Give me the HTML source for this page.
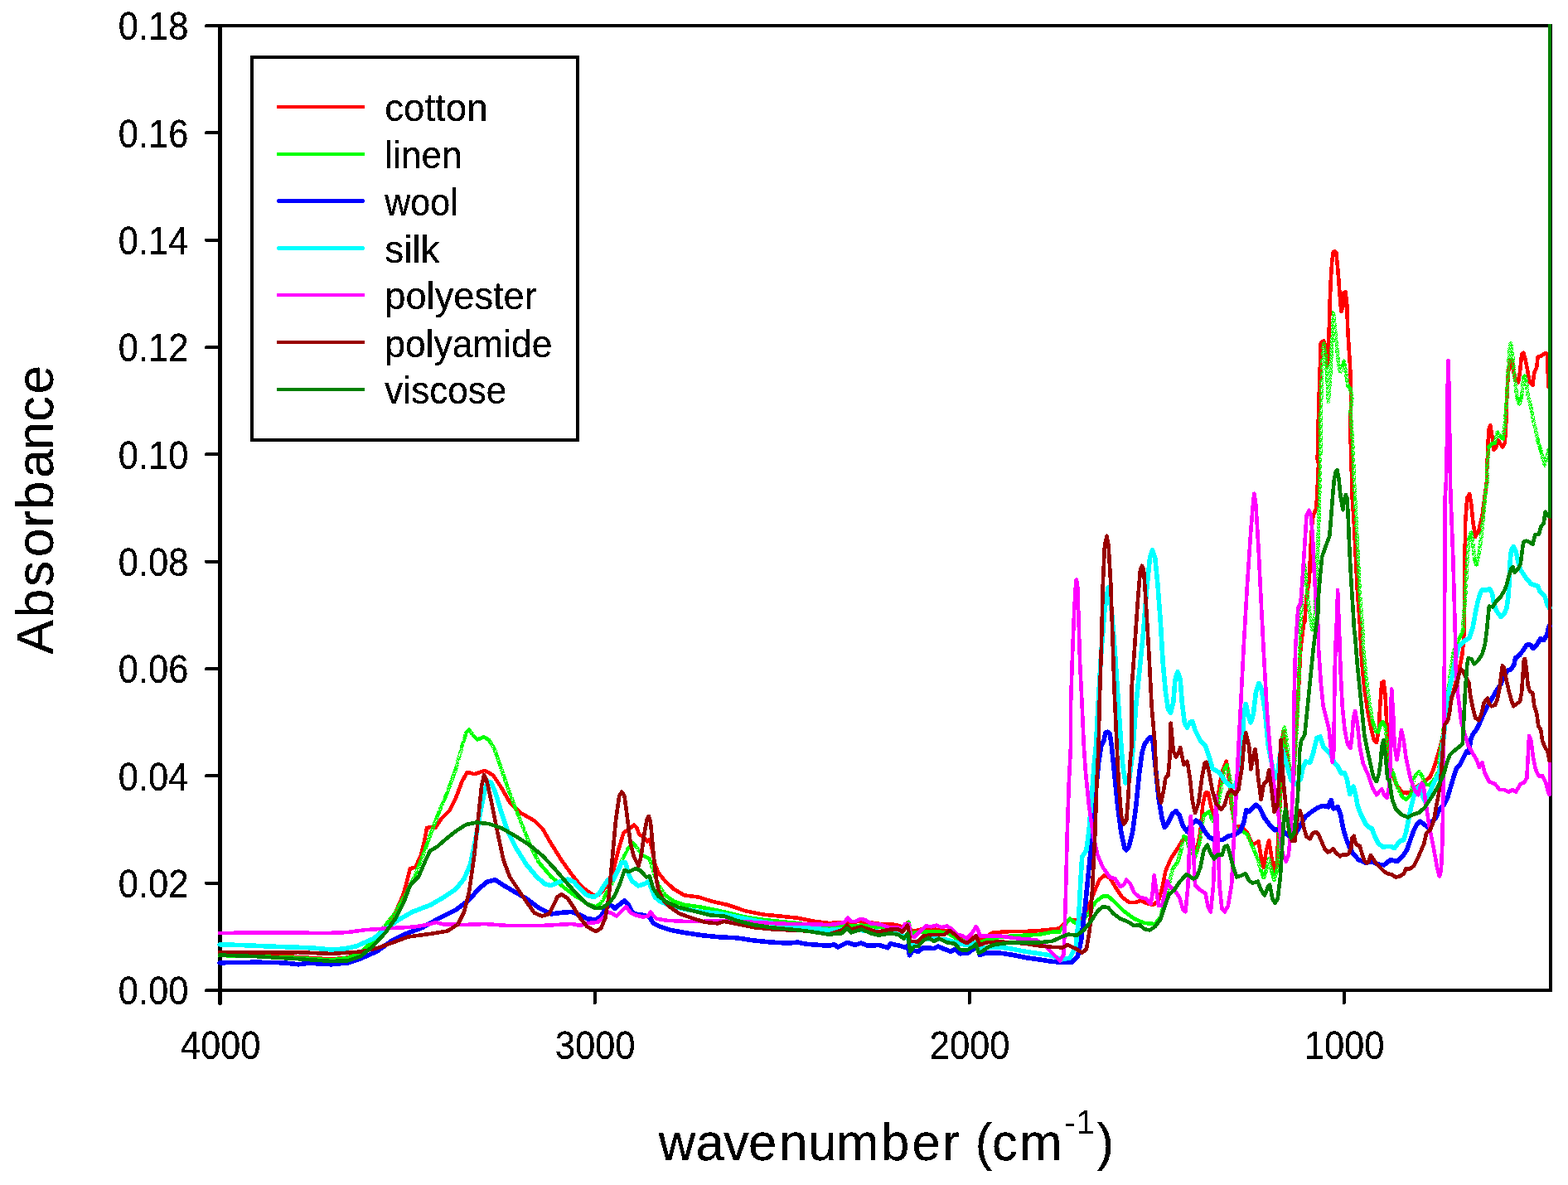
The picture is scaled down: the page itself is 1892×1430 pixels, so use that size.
<!DOCTYPE html>
<html lang="en"><head><meta charset="utf-8"><title>FTIR absorbance spectra of textile fibres</title>
<style>
html,body{margin:0;padding:0;background:#fff;}
body{width:1892px;height:1430px;overflow:hidden;font-family:"Liberation Sans", Arial, Helvetica, sans-serif;}
svg{display:block;}
text{font-family:"Liberation Sans", Arial, Helvetica, sans-serif;fill:#000;filter:url(#alias);}
.tick{font-size:48.5px;}
.leg{font-size:45.6px;}
.lab{font-size:63.8px;}
.ax{stroke:#000;stroke-width:4;fill:none;stroke-linecap:round;}
.cv{fill:none;stroke-linejoin:round;stroke-linecap:round;}
</style></head><body>
<svg width="1892" height="1430" viewBox="0 0 1892 1430">
<rect width="1892" height="1430" fill="#fff"/>
<defs><filter id="alias" x="-5%" y="-20%" width="110%" height="140%" color-interpolation-filters="sRGB"><feComponentTransfer><feFuncA type="discrete" tableValues="0 1 1"/></feComponentTransfer></filter></defs>
<defs><pattern id="stip" width="8" height="8" patternUnits="userSpaceOnUse"><path d="M0,0h1v1h-1zM1,0h1v1h-1zM3,0h1v1h-1zM4,0h1v1h-1zM5,0h1v1h-1zM6,0h1v1h-1zM7,0h1v1h-1zM0,1h1v1h-1zM1,1h1v1h-1zM2,1h1v1h-1zM3,1h1v1h-1zM4,1h1v1h-1zM6,1h1v1h-1zM7,1h1v1h-1zM2,2h1v1h-1zM3,2h1v1h-1zM5,2h1v1h-1zM7,2h1v1h-1zM0,3h1v1h-1zM1,3h1v1h-1zM2,3h1v1h-1zM4,3h1v1h-1zM5,3h1v1h-1zM7,3h1v1h-1zM0,4h1v1h-1zM1,4h1v1h-1zM2,4h1v1h-1zM3,4h1v1h-1zM5,4h1v1h-1zM6,4h1v1h-1zM7,4h1v1h-1zM0,5h1v1h-1zM1,5h1v1h-1zM4,5h1v1h-1zM5,5h1v1h-1zM6,5h1v1h-1zM1,6h1v1h-1zM3,6h1v1h-1zM4,6h1v1h-1zM6,6h1v1h-1zM7,6h1v1h-1zM0,7h1v1h-1zM3,7h1v1h-1zM5,7h1v1h-1zM7,7h1v1h-1z" fill="#00ff00" shape-rendering="crispEdges"/></pattern></defs>
<defs><pattern id="stipl" width="12" height="12" patternUnits="userSpaceOnUse"><path d="M0,0h12v12h-12zM6,0h1v1h-1zM2,1h1v1h-1zM6,1h1v1h-1zM0,2h1v1h-1zM6,3h1v1h-1zM3,4h1v1h-1zM0,5h1v1h-1zM1,5h1v1h-1zM5,5h1v1h-1zM6,5h1v1h-1zM10,5h1v1h-1zM10,6h1v1h-1zM4,7h1v1h-1zM9,7h1v1h-1zM7,9h1v1h-1zM8,9h1v1h-1zM4,11h1v1h-1z" fill="#00ff00" fill-rule="evenodd" shape-rendering="crispEdges"/></pattern></defs>
<g class="ax" shape-rendering="crispEdges">
<rect x="265.5" y="31.0" width="1605.5" height="1164.0"/>
<line x1="249" y1="31.0" x2="265.5" y2="31.0"/>
<line x1="249" y1="160.3" x2="265.5" y2="160.3"/>
<line x1="249" y1="289.7" x2="265.5" y2="289.7"/>
<line x1="249" y1="419.0" x2="265.5" y2="419.0"/>
<line x1="249" y1="548.3" x2="265.5" y2="548.3"/>
<line x1="249" y1="677.7" x2="265.5" y2="677.7"/>
<line x1="249" y1="807.0" x2="265.5" y2="807.0"/>
<line x1="249" y1="936.3" x2="265.5" y2="936.3"/>
<line x1="249" y1="1065.7" x2="265.5" y2="1065.7"/>
<line x1="249" y1="1195.0" x2="265.5" y2="1195.0"/>
<line x1="265.5" y1="1195.0" x2="265.5" y2="1210.5"/>
<line x1="717.5" y1="1195.0" x2="717.5" y2="1210.5"/>
<line x1="1169.5" y1="1195.0" x2="1169.5" y2="1210.5"/>
<line x1="1621.5" y1="1195.0" x2="1621.5" y2="1210.5"/>
<line x1="265.5" y1="31.0" x2="265.5" y2="1210.5" stroke-width="5"/>
</g>
<g class="cv" shape-rendering="crispEdges">
<path stroke="#ff0000" stroke-width="4" stroke-linecap="butt" d="M1870,467.1 L1870,29"/>
<path id="c-cotton" stroke="#ff0000" stroke-width="4.6" d="M266.6,1150.5 L265,1151 L310,1153 L360,1155 L400,1157.5 L420,1155.5 L435,1150 L450,1138 L465,1119.2 L477.5,1100.5 L486.2,1080.5 L491.2,1063 L495,1048 L501.2,1046.8 L507.5,1033 L512.5,1013 L515,999.2 L520,998 L525,999.2 L532.5,988 L542.5,978 L550,963 L557.5,943 L563.8,931.8 L572.5,934.2 L585,929.8 L595,935.5 L605,950.5 L615,968 L627.5,980.5 L645,990.5 L655,1000.5 L665,1018 L677.5,1038 L690,1055.5 L700,1068 L708.4,1075.2 L716.8,1080.4 L723.1,1079.4 L731.5,1069.9 L739.9,1051 L746.2,1025.9 L752.4,1004.9 L758.7,1000.7 L765,995.5 L768.2,998.6 L771.3,1007 L775.5,1009.1 L780.8,1015.4 L783.9,1013.3 L787.1,1025.9 L790.2,1042.7 L794.4,1053.1 L802.8,1063.6 L813.3,1073.1 L825.9,1080.4 L842.7,1082.5 L859.4,1087.8 L878.3,1092 L899.3,1099.3 L920.3,1103.5 L941.3,1105.6 L962.2,1107.7 L983.2,1111.9 L1000,1114 L1009.5,1113.6 L1019,1112.8 L1039.6,1112 L1063.4,1115.1 L1080.9,1115.9 L1088.8,1118.3 L1095.1,1113.6 L1097.5,1121.5 L1103.1,1123.9 L1111,1121.5 L1126.8,1121.5 L1142.7,1123.1 L1155.4,1131 L1166.5,1134.2 L1174.4,1131 L1182.3,1134.2 L1188.7,1131 L1198.2,1125.4 L1222,1123.9 L1237.8,1123.9 L1253.7,1123.1 L1269.6,1121.5 L1278.4,1120.3 L1284.7,1114 L1291,1109.8 L1301.5,1109.8 L1312,1099.3 L1320.3,1076.2 L1326.6,1061.5 L1332.9,1056.3 L1339.2,1059.4 L1345.5,1069.9 L1353.9,1082.5 L1362.3,1088.8 L1370.7,1088.8 L1377,1086.7 L1383.3,1089.9 L1391.7,1092 L1398,1086.7 L1402.2,1072 L1406.4,1051 L1412.7,1036.4 L1421,1023.8 L1427.3,1013.3 L1431.5,1011.2 L1437.8,1017.5 L1444.1,1026 L1448.3,1004.9 L1451.5,969.2 L1454.6,956.6 L1457.8,956.6 L1460.9,971.3 L1465.1,986.1 L1469.3,962.9 L1474.5,931.5 L1479.8,918.8 L1481.9,929.4 L1486.1,973.4 L1490.3,996.5 L1495.5,997.6 L1500.8,1000.7 L1505,1004.9 L1511.3,1019.6 L1518.6,1015.4 L1521.7,1034.3 L1524.9,1047 L1528,1025.9 L1531.2,1014.2 L1534.3,1034.3 L1537.5,1053.2 L1540.6,1042.7 L1542.7,1004.9 L1544.8,962.9 L1549,900 L1548.4,881.9 L1552.6,907.8 L1555.4,928.8 L1557.5,940 L1561,940 L1563.1,893.8 L1566.6,837.9 L1569.4,782 L1572.9,754 L1575,742 L1574.3,751 L1576.4,720.8 L1579.9,699.9 L1581.3,664.9 L1583.4,629.9 L1584.8,621.5 L1588.3,613.1 L1589.7,588 L1591,560 L1589.7,553.8 L1591,497.9 L1592.4,455.9 L1593.8,414 L1597.1,411.2 L1599.9,419.9 L1602,441.6 L1602.7,419.9 L1603.7,398.9 L1604.7,363.9 L1605.9,335.9 L1607.2,316.4 L1608.6,304.5 L1610.4,303.3 L1612.2,304.5 L1613.5,316.4 L1615.2,335.9 L1616.7,356.9 L1618.4,375.9 L1620.2,370.9 L1621.6,353.4 L1623.4,352 L1625.1,363.9 L1626.2,396.1 L1627.6,419.9 L1629,440.8 L1630.1,468.8 L1629.5,525.9 L1630.6,560.8 L1631.6,600 L1633.7,629.9 L1635.8,671.9 L1637.9,713.8 L1640,741.8 L1641.4,760 L1642.1,782 L1644.2,809.9 L1646.3,830.9 L1650.5,858.9 L1654.7,879.9 L1658.2,893.8 L1661,895.9 L1663.8,879.9 L1665.2,851.9 L1667.3,823.9 L1669.4,822.4 L1671.5,837.9 L1672.9,865.9 L1674.3,893.8 L1676.4,921.8 L1679.9,934 L1685.5,948 L1692.4,956.4 L1698,956.4 L1697.6,957.3 L1704.6,954.5 L1710.2,949 L1720,942 L1725.6,937.8 L1729.8,928 L1734,914 L1738.2,900 L1747.9,857.9 L1754.9,829.9 L1761.9,802 L1764.7,788 L1766.8,760 L1766.8,719.9 L1767.5,677.9 L1768.2,629 L1770.3,601 L1773.1,596 L1775.2,608 L1777.3,629 L1780.1,647.9 L1784.3,640.1 L1788.5,622 L1791.3,601 L1794.1,580 L1794.1,567.8 L1795.5,539.9 L1796.2,518.9 L1798.3,513.2 L1800.4,525.9 L1802.5,542.7 L1805.3,539.9 L1807.4,530.7 L1809.5,534.3 L1813,539.3 L1815.8,534.3 L1817.2,511.9 L1818.6,469.9 L1820,449 L1822.1,435 L1824.2,434.3 L1826.3,449 L1829.1,458.7 L1831.9,461.5 L1834,449 L1836.1,428 L1838.2,425.8 L1840.3,432.2 L1843,446.2 L1845.8,461.5 L1849.3,465 L1851.4,449 L1854.2,443.4 L1855.6,430.8 L1859.8,429.4 L1864.7,425.9 L1866.8,428 L1868.5,467.1 L1870,467.1"/>
<path stroke="#00ff00" stroke-width="4" stroke-linecap="butt" d="M1870,542.7 L1870,29"/>
<path stroke="#00ff00" stroke-width="4.6" d="M266.6,1152 L265,1153 L310,1154.2 L360,1156 L400,1158.5 L420,1156 L435,1149.2 L450,1135.5"/>
<path stroke="url(#stipl)" stroke-width="4.6" d="M450,1135.5 L465,1116.8 L477.5,1100.5 L490,1078 L500,1058 L510,1033 L520,1005.5 L530,979.2 L540,955.5 L550,928"/>
<path stroke="url(#stip)" stroke-width="4.6" d="M550,928 L557.5,900.5"/>
<path stroke="url(#stipl)" stroke-width="4.6" d="M557.5,900.5 L562.5,884.2"/>
<path stroke="#00ff00" stroke-width="4.6" d="M562.5,884.2 L566.2,880.5"/>
<path stroke="url(#stipl)" stroke-width="4.6" d="M566.2,880.5 L571.2,888"/>
<path stroke="#00ff00" stroke-width="4.6" d="M571.2,888 L576.2,892.5 L583.8,889.2 L590,893"/>
<path stroke="url(#stipl)" stroke-width="4.6" d="M590,893 L596.2,903 L602.5,920.5 L610,943 L620,970.5 L630,995.5 L640,1020.5 L650,1040.5"/>
<path stroke="#00ff00" stroke-width="4.6" d="M650,1040.5 L665,1058 L680,1070.5 L695,1081.8 L700,1084.2 L708.4,1090.9 L718.9,1094.1 L725.2,1089.9"/>
<path stroke="url(#stipl)" stroke-width="4.6" d="M725.2,1089.9 L731.5,1078.3 L742,1059.4 L750.3,1038.5 L757.7,1023.8"/>
<path stroke="#00ff00" stroke-width="4.6" d="M757.7,1023.8 L764,1017.5"/>
<path stroke="url(#stipl)" stroke-width="4.6" d="M764,1017.5 L769.2,1023.8 L775.5,1032.2"/>
<path stroke="#00ff00" stroke-width="4.6" d="M775.5,1032.2 L783.9,1036.4"/>
<path stroke="url(#stipl)" stroke-width="4.6" d="M783.9,1036.4 L788.1,1051 L794.4,1067.8 L802.8,1080.4"/>
<path stroke="#00ff00" stroke-width="4.6" d="M802.8,1080.4 L813.3,1087.8 L825.9,1092 L842.7,1094.1 L859.4,1097.2 L878.3,1101.4 L899.3,1106.6 L920.3,1109.8 L941.3,1111.9 L962.2,1114 L983.2,1117.1 L1000,1120.3 L1019,1117.5 L1039.6,1116.7 L1063.4,1119.1 L1088.8,1122.3"/>
<path stroke="url(#stipl)" stroke-width="4.6" d="M1088.8,1122.3 L1096.7,1112.8"/>
<path stroke="url(#stip)" stroke-width="4.6" d="M1096.7,1112.8 L1099.1,1126.2"/>
<path stroke="#00ff00" stroke-width="4.6" d="M1099.1,1126.2 L1111,1124.7 L1126.8,1123.9 L1142.7,1125.4 L1155.4,1133.4 L1166.5,1136.5 L1182.3,1137.3 L1193.4,1133.4 L1206.1,1131 L1222,1129.4 L1237.8,1128.6 L1253.7,1127.8 L1269.6,1124.7 L1278.4,1124.5"/>
<path stroke="url(#stipl)" stroke-width="4.6" d="M1278.4,1124.5 L1286.8,1114 L1291,1108.7"/>
<path stroke="#00ff00" stroke-width="4.6" d="M1291,1108.7 L1297.3,1114 L1305.7,1111.9"/>
<path stroke="url(#stipl)" stroke-width="4.6" d="M1305.7,1111.9 L1314.1,1101.4 L1322.4,1087.8"/>
<path stroke="#00ff00" stroke-width="4.6" d="M1322.4,1087.8 L1330.8,1081.5 L1337.1,1081.5 L1345.5,1088.8 L1356,1099.3 L1368.6,1108.7 L1381.2,1114 L1393.8,1115"/>
<path stroke="url(#stipl)" stroke-width="4.6" d="M1393.8,1115 L1400.1,1106.6 L1406.4,1084.6"/>
<path stroke="url(#stip)" stroke-width="4.6" d="M1406.4,1084.6 L1410.6,1067.8 L1414.8,1049"/>
<path stroke="url(#stipl)" stroke-width="4.6" d="M1414.8,1049 L1421,1040.6 L1425.2,1025.9"/>
<path stroke="url(#stip)" stroke-width="4.6" d="M1425.2,1025.9 L1428.4,1009.1"/>
<path stroke="#00ff00" stroke-width="4.6" d="M1428.4,1009.1 L1431.5,1011.2"/>
<path stroke="url(#stipl)" stroke-width="4.6" d="M1431.5,1011.2 L1435.7,1025.9 L1442,1034.3 L1447.3,1017.5"/>
<path stroke="url(#stip)" stroke-width="4.6" d="M1447.3,1017.5 L1452.5,983.9"/>
<path stroke="#00ff00" stroke-width="4.6" d="M1452.5,983.9 L1458.8,979.7"/>
<path stroke="url(#stipl)" stroke-width="4.6" d="M1458.8,979.7 L1463,990.3 L1467.2,983.9"/>
<path stroke="url(#stip)" stroke-width="4.6" d="M1467.2,983.9 L1471.4,962.9 L1477.7,927.3"/>
<path stroke="url(#stipl)" stroke-width="4.6" d="M1477.7,927.3 L1480.8,923.1"/>
<path stroke="url(#stip)" stroke-width="4.6" d="M1480.8,923.1 L1484,937.8 L1487.1,979.7 L1492.4,1004.9"/>
<path stroke="#00ff00" stroke-width="4.6" d="M1492.4,1004.9 L1498.7,1002.8 L1505,1007"/>
<path stroke="url(#stipl)" stroke-width="4.6" d="M1505,1007 L1511.3,1021.7 L1517.6,1036.4"/>
<path stroke="url(#stip)" stroke-width="4.6" d="M1517.6,1036.4 L1521.7,1051"/>
<path stroke="url(#stipl)" stroke-width="4.6" d="M1521.7,1051 L1524.9,1059.5 L1529.1,1046.9"/>
<path stroke="url(#stip)" stroke-width="4.6" d="M1529.1,1046.9 L1531.2,1036.3 L1534.3,1051"/>
<path stroke="url(#stipl)" stroke-width="4.6" d="M1534.3,1051 L1537.5,1061.6 L1540.6,1051"/>
<path stroke="url(#stip)" stroke-width="4.6" d="M1540.6,1051 L1542.7,1025.9 L1544.8,962.9 L1546.9,937.8 L1549,900"/>
<path stroke="url(#stipl)" stroke-width="4.6" d="M1549,900 L1546.3,893.8"/>
<path stroke="url(#stip)" stroke-width="4.6" d="M1546.3,893.8 L1549.8,877.7 L1552.6,893.8 L1555.4,921.8 L1557.5,940"/>
<path stroke="#00ff00" stroke-width="4.6" d="M1557.5,940 L1561,940"/>
<path stroke="url(#stip)" stroke-width="4.6" d="M1561,940 L1563.8,893.8 L1566.6,837.9 L1568.7,782 L1570.1,740 L1571.5,699.9 L1573.6,680.9 L1575.7,692.9 L1577.8,720.8 L1580.6,741.8 L1583.4,759.7 L1585.5,751.2 L1586.9,740 L1588.3,699.9 L1590.3,657.9 L1591.7,615.9 L1592.4,588 L1593.1,560 L1593.8,497.9 L1595.2,442 L1597.1,414.6 L1599.4,428 L1601.5,455.9 L1602.9,484.7 L1605,455.9 L1607.1,414 L1608.5,400 L1609,377.1 L1611.1,398.9 L1613.2,419.9 L1615.3,440.8 L1617.4,448.6 L1619.5,440.8"/>
<path stroke="url(#stipl)" stroke-width="4.6" d="M1619.5,440.8 L1621.6,435.8"/>
<path stroke="url(#stip)" stroke-width="4.6" d="M1621.6,435.8 L1623.7,447.8 L1626.5,466"/>
<path stroke="#00ff00" stroke-width="4.6" d="M1626.5,466 L1629.3,468.8"/>
<path stroke="url(#stip)" stroke-width="4.6" d="M1629.3,468.8 L1631.4,480 L1629.5,497.9 L1631.6,525.9 L1633,553.8 L1634,581.8 L1635.1,600"/>
<path stroke="url(#stipl)" stroke-width="4.6" d="M1635.1,600 L1635.1,602"/>
<path stroke="url(#stip)" stroke-width="4.6" d="M1635.1,602 L1637.2,643.9 L1638.6,671.9 L1640.7,713.8 L1642.8,741.8 L1644.2,760 L1644.9,782 L1648.4,816.9 L1651.9,844.9 L1656.1,870.1"/>
<path stroke="url(#stipl)" stroke-width="4.6" d="M1656.1,870.1 L1660.3,882.7"/>
<path stroke="#00ff00" stroke-width="4.6" d="M1660.3,882.7 L1663.1,883.4"/>
<path stroke="url(#stipl)" stroke-width="4.6" d="M1663.1,883.4 L1665.9,874.3"/>
<path stroke="#00ff00" stroke-width="4.6" d="M1665.9,874.3 L1668.7,871.4"/>
<path stroke="url(#stipl)" stroke-width="4.6" d="M1668.7,871.4 L1671.5,877.1"/>
<path stroke="url(#stip)" stroke-width="4.6" d="M1671.5,877.1 L1673.6,893.8 L1676.4,921.8"/>
<path stroke="url(#stipl)" stroke-width="4.6" d="M1676.4,921.8 L1681.3,934 L1686.9,952.2 L1692.4,962"/>
<path stroke="#00ff00" stroke-width="4.6" d="M1692.4,962 L1696.6,964.8 L1702.2,959.2"/>
<path stroke="url(#stip)" stroke-width="4.6" d="M1702.2,959.2 L1706.4,938.2"/>
<path stroke="url(#stipl)" stroke-width="4.6" d="M1706.4,938.2 L1712,931.1 L1716.2,936.8 L1720.4,946.6"/>
<path stroke="#00ff00" stroke-width="4.6" d="M1720.4,946.6 L1724.6,947.3 L1730.2,941"/>
<path stroke="url(#stipl)" stroke-width="4.6" d="M1730.2,941 L1735.8,931.2"/>
<path stroke="url(#stip)" stroke-width="4.6" d="M1735.8,931.2 L1736.8,914 L1738.9,900 L1741,885.9 L1747.9,829.9 L1753.5,788"/>
<path stroke="url(#stipl)" stroke-width="4.6" d="M1753.5,788 L1759.1,774 L1766.1,760 L1764.7,761.8"/>
<path stroke="url(#stip)" stroke-width="4.6" d="M1764.7,761.8 L1768.2,719.9 L1770.3,677.9 L1772.4,649.9"/>
<path stroke="url(#stipl)" stroke-width="4.6" d="M1772.4,649.9 L1775.2,642.8"/>
<path stroke="url(#stip)" stroke-width="4.6" d="M1775.2,642.8 L1777.3,656.9 L1779.4,675.1"/>
<path stroke="url(#stipl)" stroke-width="4.6" d="M1779.4,675.1 L1781.5,681.5"/>
<path stroke="url(#stip)" stroke-width="4.6" d="M1781.5,681.5 L1784.3,670.9 L1787.1,649.9 L1789.2,629 L1791.3,608 L1793.4,587 L1794.8,580 L1794.1,567.8 L1796.2,539.9"/>
<path stroke="#00ff00" stroke-width="4.6" d="M1796.2,539.9 L1799.7,535.7 L1803.9,534.3"/>
<path stroke="url(#stip)" stroke-width="4.6" d="M1803.9,534.3 L1806.7,521.7"/>
<path stroke="url(#stipl)" stroke-width="4.6" d="M1806.7,521.7 L1810.9,527.3"/>
<path stroke="#00ff00" stroke-width="4.6" d="M1810.9,527.3 L1813.7,529.5"/>
<path stroke="url(#stip)" stroke-width="4.6" d="M1813.7,529.5 L1815.8,511.9 L1817.9,483.9 L1820,442 L1821.4,421 L1822.8,414.6 L1824.9,425.2 L1826.3,442 L1828.4,462.9 L1830.5,479.7"/>
<path stroke="url(#stipl)" stroke-width="4.6" d="M1830.5,479.7 L1833.3,487.5 L1836.1,478.3"/>
<path stroke="url(#stip)" stroke-width="4.6" d="M1836.1,478.3 L1838.2,455.9"/>
<path stroke="url(#stipl)" stroke-width="4.6" d="M1838.2,455.9 L1839.6,453.7 L1841.7,460.1"/>
<path stroke="url(#stip)" stroke-width="4.6" d="M1841.7,460.1 L1843.7,476.9 L1847.2,490.9 L1850,506.3 L1852.8,518.9 L1855.6,531.5"/>
<path stroke="url(#stipl)" stroke-width="4.6" d="M1855.6,531.5 L1859.8,545.5"/>
<path stroke="url(#stip)" stroke-width="4.6" d="M1859.8,545.5 L1864,561.6 L1866.1,553.8 L1868.5,542.7"/>
<path stroke="#00ff00" stroke-width="4.6" d="M1868.5,542.7 L1870,542.7"/>
<path stroke="#0000ff" stroke-width="4" stroke-linecap="butt" d="M1870,755.8 L1870,29"/>
<path id="c-wool" stroke="#0000ff" stroke-width="5.6" d="M266.6,1161.5 L265,1161.8 L310,1161.2 L342.5,1161.8 L360,1163.8 L372.5,1162.2 L400,1163.8 L420,1161.8 L435,1156.8 L455,1148 L472.5,1135.5 L490,1126.8 L510,1119.2 L530,1108 L550,1098 L565,1086.8 L577.5,1073 L587.5,1064.2 L597.5,1061.8 L605,1066.8 L617.5,1074.2 L635,1084.2 L650,1095.5 L665,1103 L680,1101 L690,1100.5 L700,1104.2 L708.4,1108.7 L718.9,1109.8 L725.2,1105.6 L731.5,1095.1 L736.7,1092 L742,1096.2 L748.3,1090.9 L753.5,1086.7 L757.7,1090.9 L762.9,1101.4 L769.2,1103.5 L777.6,1104.5 L783.9,1106.6 L788.1,1114 L796.5,1118.2 L809.1,1122.4 L825.9,1125.5 L846.9,1128.7 L867.8,1130.8 L888.8,1131.8 L909.8,1135 L930.8,1137.1 L951.7,1138.1 L962.2,1137.1 L972.7,1139.2 L1000,1141.3 L1006.3,1139.7 L1011.1,1142.9 L1022.2,1137.3 L1031.7,1140.5 L1038.8,1138.1 L1047.6,1141.3 L1060.3,1140.5 L1071.4,1143.7 L1074.5,1138.9 L1085.6,1141.3 L1093.6,1143.7 L1095.9,1140.5 L1097.5,1152.8 L1101.5,1146.8 L1107.8,1148.4 L1114.2,1143.7 L1126.8,1144.5 L1131.6,1142.1 L1139.5,1145.3 L1147.5,1148.4 L1152.2,1145.3 L1158.6,1150.8 L1168.1,1150 L1174.4,1145.3 L1179.2,1143.7 L1182.3,1152.4 L1190.3,1150 L1206.1,1150 L1222,1152.4 L1237.8,1155.6 L1253.7,1157.9 L1269.6,1160.3 L1280.5,1161.2 L1293.1,1161.2 L1300.4,1153.8 L1304.6,1135 L1309.9,1088.8 L1315.1,1036.4 L1320.3,973.4 L1325.6,921 L1328.7,900 L1331.9,893.7 L1334,884.3 L1336.7,883.2 L1339.2,885.3 L1341.3,900 L1344.5,931.5 L1348.7,973.4 L1352.9,1004.9 L1357.1,1023.8 L1359.2,1025.9 L1362.3,1021.7 L1366.5,1004.9 L1370.7,973.4 L1374.9,931.5 L1378,908.4 L1381.2,897.9 L1387.5,889.5 L1390.6,890.6 L1393.8,921 L1398,962.9 L1402.2,988.1 L1405.3,998.6 L1408.5,994.4 L1414.8,981.8 L1419,978.7 L1423.1,983.9 L1427.3,996.5 L1432.6,1003.8 L1437.8,994.4 L1443.1,990.2 L1448.3,993.4 L1452.5,1001.7 L1458.8,1010.1 L1467.2,1014.3 L1475.6,1013.3 L1481.9,1009.1 L1490.3,1007 L1496.6,1002.8 L1500.8,992.3 L1503.9,977.6 L1507.1,979.7 L1511.3,975.5 L1515.5,971.3 L1519.7,974.5 L1525.9,987.1 L1532.2,995.5 L1538.5,1001.7 L1540,1001.1 L1547,1002.5 L1552.6,1006.7 L1558.2,1010.9 L1563.8,1005.3 L1569.4,995.5 L1575,985.7 L1582,980.1 L1589,975.2 L1595.9,972.4 L1602.9,973.8 L1605,967.6 L1606.4,965.5 L1607.8,973.1 L1609.2,975.9 L1614.1,973.8 L1617.6,982.9 L1620.4,998.3 L1623.9,1010.9 L1628.1,1022.1 L1633,1030.5 L1639.3,1037.5 L1647.7,1041 L1656.1,1040.3 L1663.1,1043.1 L1670.1,1043.8 L1674.3,1040.3 L1678.5,1037.5 L1682.7,1038.9 L1686.9,1038.9 L1692.4,1033.3 L1698,1024.9 L1702.2,1012.3 L1706.4,1001.1 L1709.9,994.1 L1713.4,991.3 L1717.6,994.1 L1723.2,998.3 L1728.4,990.9 L1732.6,986.7 L1736.8,976.9 L1742.3,971.3 L1746.5,962.9 L1750.7,948.8 L1754.9,934.8 L1757.7,926.4 L1761.9,922.2 L1766.1,913.8 L1769.6,906.9 L1772.4,908.3 L1774.5,892.9 L1777.3,885.9 L1781.5,880.3 L1785.7,871.9 L1789.9,862.1 L1794.1,853.7 L1799.7,843.9 L1805.3,834.1 L1810.9,825.7 L1815.1,815.9 L1819.3,809 L1823.5,807.6 L1827,802 L1828.4,794.3 L1833.3,790.8 L1837.5,785.2 L1842.3,778.2 L1846.5,778.2 L1850,782.4 L1854.2,778.2 L1859.1,770.5 L1862.6,772.6 L1866.8,765.6 L1868.9,755.8 L1870,755.8"/>
<path stroke="#00ffff" stroke-width="4" stroke-linecap="butt" d="M1870,733.8 L1870,29"/>
<path id="c-silk" stroke="#00ffff" stroke-width="5.6" d="M266.6,1139.5 L265,1139.8 L290,1140.5 L330,1142.2 L375,1143.8 L400,1146 L415,1145 L430,1141.8 L450,1133 L465,1121.8 L480,1110.5 L497.5,1100.5 L520,1091.8 L535,1083 L550,1073 L560,1060.5 L567.5,1043 L573.8,1013 L580,978 L585,953 L588.8,943 L592.5,944.2 L597.5,955.5 L605,980.5 L612.5,1003 L622.5,1023 L635,1043 L647.5,1058 L657.5,1066.8 L665,1068.5 L675,1064.2 L685,1061 L692.5,1064.2 L700,1073 L708.4,1080.4 L716.8,1082.5 L723.1,1078.3 L729.4,1067.8 L733.6,1061.5 L739.9,1061.5 L746.2,1049 L750.3,1040.6 L754.5,1040.6 L758.7,1055.2 L762.9,1063.6 L770.3,1068.9 L777.6,1066.8 L782.9,1063.6 L786,1072 L790.2,1082.5 L796.5,1087.8 L809.1,1093 L825.9,1097.2 L846.9,1100.3 L867.8,1102.4 L888.8,1106.6 L909.8,1110.8 L930.8,1114 L951.7,1117.1 L972.7,1119.2 L1000,1122.4 L1019,1121.5 L1047.6,1123.1 L1079.3,1126.2 L1095.1,1131 L1098.3,1140.5 L1111,1134.2 L1126.8,1132.6 L1142.7,1134.2 L1158.6,1138.9 L1166.5,1140.5 L1174.4,1137.3 L1182.3,1143.7 L1190.3,1143.7 L1206.1,1142.9 L1222,1145.3 L1237.8,1148.4 L1253.7,1150.8 L1269.6,1153.2 L1280.5,1158 L1291,1155.9 L1298.3,1141.3 L1301.5,1109.8 L1303.6,1067.8 L1305.7,1034.3 L1310.9,1025.9 L1314.1,1000.7 L1317.2,962.9 L1320.3,921 L1322.4,900 L1325,851.7 L1328.7,788.8 L1332.9,736.4 L1337.1,709 L1341.3,736.4 L1345.5,788.8 L1349.7,851.7 L1352.9,900 L1355,925.2 L1358.1,945.1 L1362.3,942 L1366.5,910.5 L1370.7,851.7 L1374.9,809.8 L1379.1,767.8 L1383.3,715.4 L1387.5,673.4 L1390.6,663.9 L1393.8,673.4 L1396.9,704.9 L1400.1,746.9 L1403.2,799.3 L1406.4,835 L1409.5,855.9 L1412.7,860.2 L1415.8,847.6 L1417.9,820.3 L1421,810.7 L1424.2,820.3 L1426.3,847.6 L1429.4,872.7 L1432.6,878.1 L1435.7,871.7 L1438.9,870.6 L1442,881.1 L1448.3,893.7 L1454.6,900 L1458.8,912.6 L1463,927.3 L1471.4,932.5 L1477.7,942 L1484,948.3 L1490.3,949.3 L1495.5,931.5 L1499.7,900 L1500.8,862.2 L1503.3,849.6 L1506,862.2 L1509.2,871.8 L1512.3,862.2 L1515.5,835 L1519,824.4 L1522,830.8 L1526.4,858 L1530.3,900 L1534.5,921 L1538,940 L1541.5,935 L1545,908 L1547.5,905 L1550,913 L1554,928 L1558,942 L1563,946 L1569.4,940 L1572.2,926 L1575.7,919 L1580.6,920.4 L1584.8,907.8 L1589,890.3 L1593.1,889 L1596.6,900.8 L1601.5,906.4 L1604.3,907.8 L1609.9,920.4 L1614.1,924.6 L1618.3,933 L1622.5,933 L1625.3,940 L1626.7,948 L1628.8,958.6 L1630.9,950.8 L1633,949.3 L1635.8,959.2 L1637.9,971.7 L1642.1,982.9 L1647.7,994.1 L1651.9,998.3 L1655.4,999.7 L1658.9,1009.5 L1663.1,1017.9 L1668.7,1022.1 L1674.3,1021.4 L1678.5,1021.4 L1682.7,1023.5 L1686.9,1017.9 L1689.7,1014.4 L1693.8,1013.7 L1696.6,1003.9 L1699.4,989.9 L1702.2,975.9 L1705.7,962 L1709.2,952.2 L1713.4,948 L1716.2,959.2 L1719,966.2 L1723.2,960.6 L1728.8,948 L1734.4,936 L1735.4,939.8 L1739.6,913.8 L1743.7,871.9 L1747.9,836.9 L1752.1,815.9 L1756.3,795 L1759.8,781 L1766.1,774 L1773.1,769.8 L1777.3,756.2 L1780.1,740.8 L1782.9,726.9 L1785.7,717.1 L1787.8,712.2 L1792.7,712.2 L1797.6,710.8 L1800.4,715.7 L1802.5,728.3 L1805.3,736.6 L1810.9,744.3 L1815.1,740.8 L1817.9,733.8 L1820,719.9 L1821.4,698.9 L1822.1,677.9 L1823.5,663.9 L1826.3,659.6 L1829.1,665.3 L1831.9,677.9 L1834.7,687.7 L1840.3,696.1 L1847.2,704.5 L1855.6,707.3 L1858.4,714.3 L1864,719.9 L1867.5,731 L1869.6,733.8 L1870,733.8"/>
<path stroke="#ff00ff" stroke-width="4" stroke-linecap="butt" d="M1870,958.6 L1870,29"/>
<path id="c-polyester" stroke="#ff00ff" stroke-width="4.6" d="M266.6,1126 L265,1126 L310,1125.5 L360,1125.5 L390,1126.2 L420,1125 L440,1122.2 L465,1120.5 L500,1118.5 L517.5,1115.5 L526.2,1113 L535,1115.5 L560,1116 L585,1115 L610,1116.8 L650,1117.2 L690,1115 L700,1116.8 L710.5,1114 L721,1112.9 L727.3,1107.7 L733.6,1100.3 L738.8,1102.4 L744.1,1105.6 L750.3,1099.3 L755.6,1094.1 L760.8,1101.4 L767.1,1104.5 L775.5,1106.6 L781.8,1105.6 L785,1100.3 L788.1,1104.5 L792.3,1108.7 L804.9,1110.8 L825.9,1111.9 L846.9,1111.9 L867.8,1110.8 L888.8,1111.9 L909.8,1112.9 L930.8,1114 L951.7,1115 L972.7,1115 L1000,1116.1 L1009.5,1115.1 L1019,1112.8 L1023,1107.6 L1027,1112 L1031.7,1112 L1038.8,1108.8 L1044.4,1110.4 L1050.7,1114.3 L1063.4,1115.9 L1072.9,1119.1 L1082.5,1119.1 L1088.8,1121.5 L1092,1115.1 L1096.7,1115.1 L1099.1,1129.4 L1103.1,1131 L1111,1123.1 L1117.3,1117.5 L1123.7,1118.3 L1130,1116.7 L1136.4,1119.1 L1142.7,1117.5 L1149,1121.5 L1155.4,1127.8 L1161.7,1129.4 L1166.5,1132.6 L1172.8,1126.2 L1177.6,1118.3 L1180,1121.5 L1182.3,1129.4 L1190.3,1129.4 L1206.1,1129.4 L1222,1131.8 L1237.8,1133.4 L1250.5,1134.2 L1261.6,1142.1 L1269.6,1150 L1279.1,1159.5 L1283.6,1151.7 L1285.7,1088.8 L1287.8,1004.9 L1289.9,942 L1292,900 L1292,851.7 L1294.1,788.8 L1296.2,736.4 L1298.3,700.7 L1299,699.6 L1300.4,709.1 L1301.5,746.9 L1303.1,799.3 L1305.7,851.7 L1307.8,900 L1309.9,931.5 L1314.1,973.4 L1319.3,1009.1 L1324.5,1032.2 L1330.8,1046.9 L1339.2,1058.4 L1345.5,1060.5 L1351.8,1069.9 L1356,1067.8 L1359.2,1061.5 L1363.4,1065.7 L1368.6,1077.3 L1374.9,1082.5 L1383.3,1084.6 L1388.5,1091 L1390.6,1078.3 L1392.7,1056.2 L1395.9,1078.3 L1398,1093 L1402.2,1093 L1405.3,1078.3 L1408.5,1063.5 L1411.6,1069.9 L1416.9,1074.1 L1423.1,1082.5 L1427.3,1097.2 L1430.5,1100.4 L1433.6,1067.8 L1435.7,1004.9 L1436.8,984.9 L1438.9,1004.9 L1442,1067.8 L1448.3,1074.1 L1454.6,1078.3 L1457.8,1095.1 L1460.9,1100.4 L1464.1,1067.8 L1466.2,1004.9 L1467.2,960.7 L1469.3,1004.9 L1471.4,1067.8 L1474.5,1097.2 L1477.7,1100.4 L1481.9,1093 L1486.1,1067.8 L1489.2,1004.9 L1492.4,942 L1494.5,900 L1497.6,841.3 L1500.8,778.3 L1505,704.9 L1509.2,642 L1512.3,604.2 L1513.4,595.7 L1515.5,610.5 L1518.6,662.9 L1521.7,725.9 L1524.9,788.8 L1529.1,862.2 L1532.2,900 L1536.4,942 L1542.7,983.9 L1546.9,1025.9 L1548.4,1031.9 L1551.9,1039.7 L1554.7,1031.9 L1557.5,1003.9 L1559.6,962 L1561,920 L1561,865.9 L1563.1,782 L1565.9,740 L1565.9,734.8 L1569.4,727.8 L1571.5,699.9 L1574.3,657.9 L1576.4,622.9 L1579.6,615.8 L1582,622.9 L1584.1,650.9 L1585.5,685.9 L1587.6,720.8 L1589.7,748.8 L1591,760 L1591,782 L1593.8,823.9 L1596.6,851.9 L1600.1,865.9 L1603.6,879.9 L1605.7,900.8 L1607.8,919.8 L1609.2,907.8 L1609.9,865.9 L1610.6,809.9 L1612,768 L1613.4,740 L1614.1,711.7 L1616.2,768 L1617.6,809.9 L1619.7,851.9 L1622.5,879.9 L1626,898 L1629.5,903 L1631.6,886.9 L1633,865.9 L1635.1,858.1 L1637.9,872.9 L1640.7,900.8 L1644.9,921.8 L1650.5,934 L1656.1,950.8 L1661,959.2 L1664.5,955 L1667.3,952.2 L1670.1,959.2 L1673.6,962.7 L1676.4,948 L1677.8,920 L1677.8,865.9 L1679.2,831.5 L1681.3,865.9 L1682.7,900.8 L1685.5,917 L1688.3,900.8 L1691,881.2 L1693.8,893.8 L1696.6,914.8 L1702.2,941 L1707.8,955 L1711.3,959.2 L1714.1,948 L1715.5,945.1 L1717.6,948 L1720.4,969 L1724.6,996.9 L1730.2,1024.9 L1734,1046.9 L1736.8,1057.4 L1738.9,1051 L1740.3,1018.9 L1741,983.9 L1741.5,942 L1742.1,900 L1743,780 L1743.3,691.9 L1743.6,622 L1743.7,600 L1745,579 L1745.8,539.9 L1746.4,497.9 L1746.8,462.9 L1747.4,434.9 L1747.9,442 L1748.4,469.9 L1748.8,497.9 L1749.5,539.9 L1749.9,579 L1750.5,600 L1753.5,677.9 L1756.3,780 L1756.3,802 L1759.1,836.9 L1763.3,871.9 L1767.5,885.9 L1771.7,899.9 L1775.9,906.9 L1781.5,916.6 L1785,925.8 L1788.5,920 L1791.3,932 L1796.9,943.2 L1803.9,946 L1809.5,953 L1815.1,953 L1820.7,955.8 L1824.9,953 L1829.1,955.8 L1834.7,946 L1838.9,944.6 L1842.3,939 L1843.7,913.8 L1845.1,887.9 L1847.2,892.9 L1850,913.8 L1852.8,927.8 L1856.3,936.2 L1861.2,936.2 L1865.4,944.6 L1868.2,955.8 L1869.6,958.6 L1870,958.6"/>
<path stroke="#980000" stroke-width="4" stroke-linecap="butt" d="M1870,918 L1870,29"/>
<path id="c-polyamide" stroke="#980000" stroke-width="4.6" d="M266.6,1149 L265,1149.2 L310,1149.8 L360,1149.2 L400,1151 L435,1148.5 L455,1144.2 L472.5,1138 L492.5,1130.5 L520,1126.8 L540,1123.5 L552.5,1115.5 L560,1100.5 L566.2,1075.5 L572.5,1030.5 L577.5,983 L581.2,948 L584.2,935 L587.5,943 L592.5,965.5 L600,1003 L607.5,1038 L615,1058 L625,1073 L635,1088 L645,1101.8 L653.8,1105.5 L662.5,1103 L667.5,1093 L672.5,1082.5 L677.5,1079.2 L685,1084.2 L692.5,1095.5 L700,1108 L708.4,1118.2 L718.9,1124.1 L725.2,1120.3 L730.4,1107.7 L734.6,1082.5 L738.8,1036.4 L743,990.2 L747.2,960.8 L750.3,955.5 L753.5,960.8 L756.6,983.9 L760.8,1017.5 L765,1034.3 L770.3,1044.9 L773.4,1034.3 L777.6,1004.9 L780.8,988.1 L782.9,985 L785,992.3 L788.1,1025.9 L791.3,1057.3 L794.4,1074.1 L800.7,1086.7 L809.1,1095.1 L819.6,1102.4 L834.3,1107.7 L851,1112.9 L865.7,1114.4 L874.1,1111.9 L888.8,1115 L909.8,1119.2 L930.8,1121.3 L951.7,1122.4 L972.7,1123.4 L1000,1127.6 L1015.9,1122.3 L1022.2,1116.7 L1027,1121.5 L1039.6,1118.3 L1050.7,1122.3 L1058.7,1124.7 L1074.5,1121.5 L1084,1121.5 L1088.8,1124.7 L1095.1,1116.7 L1098.3,1135.8 L1107.8,1136.5 L1114.2,1129.4 L1126.8,1127.8 L1139.5,1127.8 L1145.9,1123.1 L1152.2,1127.8 L1158.6,1134.2 L1166.5,1138.1 L1172.8,1134.2 L1177.6,1129.4 L1182.3,1140.5 L1190.3,1137.3 L1206.1,1136.5 L1222,1137.3 L1237.8,1138.9 L1253.7,1141.3 L1269.6,1142.9 L1282.6,1143.4 L1287.8,1140.2 L1297.3,1144.4 L1305.7,1149.7 L1310.9,1145.5 L1315.1,1120.3 L1318.3,1067.8 L1321.4,1004.9 L1323.5,942 L1325.6,900 L1326.6,851.7 L1328.7,788.8 L1330.8,704.9 L1332.9,658.7 L1335.5,646.7 L1337.6,658.7 L1340.3,704.9 L1342.4,767.8 L1344.5,830.8 L1347.6,900 L1349.7,942 L1352.9,983.9 L1356,994.5 L1359.2,990.2 L1361.3,962.9 L1363.4,921 L1365.5,900 L1365.5,830.8 L1368.6,788.8 L1372.8,725.9 L1375.9,688.1 L1378,682.8 L1380.1,688.1 L1383.3,736.4 L1386.4,788.8 L1389.6,851.7 L1393.8,900 L1394.8,931.5 L1399,962.9 L1401.1,968.3 L1404.3,952.4 L1406.4,938.8 L1409.5,935.7 L1411.6,912.6 L1412.7,872.6 L1415.8,906.3 L1419,913.7 L1422.1,908.4 L1424.2,902 L1428.4,923.1 L1432.6,918.9 L1435.7,937.8 L1438.9,967.1 L1442,980.9 L1446.2,969.2 L1450.4,937.8 L1453.6,921 L1455.7,919.8 L1458.8,931.5 L1463,954.5 L1467.2,969.2 L1473.5,976.7 L1477.7,971.3 L1481.9,956.6 L1486.1,953.5 L1490.3,958.8 L1494.5,952.4 L1498.7,925.2 L1500.8,900 L1503.3,884.2 L1507.1,900 L1509.4,928.4 L1512.3,912.6 L1514.4,904.1 L1516.3,916.8 L1518,937.8 L1521.7,965.1 L1524.9,946.2 L1529.1,942 L1531.2,929.3 L1534.3,952.4 L1537.5,979.8 L1541.7,971.3 L1543.8,933.6 L1545.2,900 L1545.6,892.6 L1547,920 L1549.1,948 L1551.9,975.9 L1555.4,1003.9 L1558.9,1015.1 L1562.4,1015.1 L1564.5,996.9 L1566.6,978.7 L1568.7,978 L1570.8,985.7 L1573.6,999.7 L1576.4,1009.5 L1580.6,1012.3 L1584.1,1005.3 L1587.6,1003.9 L1591,1006.7 L1594.5,1015.1 L1598.7,1024.9 L1602.2,1028.4 L1605.7,1027 L1608.5,1024.2 L1612,1029.1 L1616.9,1033.3 L1620.4,1031.2 L1623.9,1031.9 L1627.4,1030.5 L1630.2,1023.5 L1631.6,1010.9 L1633.7,1008.8 L1635.8,1017.9 L1637.9,1020 L1640.7,1020.7 L1643.5,1030.5 L1646.3,1038.9 L1649.1,1041.7 L1651.9,1038.9 L1654,1031.9 L1656.8,1036.1 L1660.3,1041.7 L1665.9,1047.3 L1670.1,1051.5 L1674.3,1054.3 L1679.9,1055.7 L1684.1,1058.5 L1689.7,1057.1 L1693.8,1054.3 L1696.6,1048 L1700.8,1048.7 L1706.4,1044.5 L1710.6,1036.1 L1714.8,1026.3 L1718.3,1017.9 L1721.1,1005.3 L1726,1001.1 L1730.2,989.9 L1733,973.1 L1735.8,959.2 L1738.2,941.8 L1740.3,913.8 L1741.7,892.9 L1743,874.7 L1747.2,869.1 L1749.3,857.9 L1751.4,841.1 L1754.9,834.1 L1757.7,827.1 L1760.5,813.1 L1763.3,807.6 L1766.1,811.7 L1769.6,818.7 L1772.4,824.3 L1774.5,841.1 L1777.3,855.1 L1780.1,866.3 L1784.3,869.1 L1787.8,860.7 L1790.6,848.1 L1794.8,842.5 L1796.9,849.5 L1799.7,852.3 L1803.9,850.9 L1806.7,843.9 L1809.5,829.9 L1811.6,813.1 L1813,803.3 L1815.1,806.2 L1817.2,818.7 L1820.7,834.1 L1824.2,846.7 L1826.3,852.3 L1829.8,849.5 L1834,846.7 L1836.1,835.5 L1837.5,815.9 L1838.9,796.4 L1840,794.9 L1841.7,806.2 L1843.7,827.1 L1845.8,834.1 L1849.3,836.2 L1851.4,852.3 L1854.2,860.7 L1856.3,876.1 L1859.1,880.3 L1861.2,894.3 L1864,901.3 L1867.5,906.9 L1869.6,918 L1870,918"/>
<path stroke="#008000" stroke-width="4" stroke-linecap="butt" d="M1870,623.4 L1870,29"/>
<path id="c-viscose" stroke="#008000" stroke-width="4.6" d="M266.6,1152 L265,1152.5 L310,1154.2 L360,1157.2 L400,1160 L420,1159.2 L435,1154.2 L450,1141.8 L465,1125.5 L477.5,1108 L487.5,1088 L495,1068 L505,1058 L512.5,1040.5 L518.8,1026.8 L527.5,1021.8 L537.5,1013 L550,1003 L562.5,995 L575,992.5 L590,994.2 L605,999.2 L622.5,1009.2 L640,1020.5 L655,1033 L670,1049.2 L685,1066.8 L700,1083 L708.4,1090.9 L718.9,1096.2 L727.3,1095.1 L735.7,1088.8 L742,1080.4 L748.3,1065.7 L753.5,1050 L758.7,1052.1 L767.1,1047.9 L773.4,1051 L779.7,1058.4 L783.9,1057.3 L788.1,1072 L794.4,1081.5 L804.9,1088.8 L819.6,1095.1 L836.4,1099.3 L857.3,1104.5 L874.1,1105.6 L888.8,1110.8 L909.8,1116.1 L930.8,1119.2 L951.7,1121.3 L972.7,1123.4 L1000,1127.6 L1015.9,1126.2 L1022.2,1119.9 L1027,1125.4 L1039.6,1121.5 L1050.7,1126.2 L1060.3,1128.6 L1074.5,1126.2 L1084,1127.8 L1090.4,1132.6 L1095.1,1126.7 L1098.3,1148.4 L1103.1,1142.1 L1107.8,1142.1 L1114.2,1135 L1120.5,1131.8 L1126.8,1135.8 L1133.2,1132.6 L1142.7,1137.3 L1152.2,1138.9 L1158.6,1146.1 L1166.5,1146.8 L1174.4,1142.1 L1177.6,1139.3 L1180.8,1150 L1187.1,1146.8 L1193.4,1142.1 L1201.4,1139.7 L1222,1137.3 L1237.8,1137.3 L1253.7,1137.3 L1269.6,1135.8 L1280.5,1130.8 L1288.9,1127.6 L1299.4,1128.7 L1307.8,1122.4 L1316.2,1111.9 L1324.5,1099.3 L1330.8,1094.1 L1337.1,1095.1 L1343.4,1102.4 L1351.8,1108.7 L1360.2,1111.9 L1368.6,1117.1 L1374.9,1116.1 L1381.2,1121.3 L1387.5,1122.4 L1393.8,1118.2 L1400.1,1109.8 L1406.4,1090.9 L1410.6,1079.4 L1416.9,1074.1 L1423.1,1064.7 L1431.5,1055.2 L1435.7,1057.3 L1439.9,1060.5 L1444.1,1058.4 L1448.3,1046.9 L1452.5,1025.9 L1456.7,1019.6 L1460.9,1030.1 L1465.1,1036.4 L1469.3,1031.1 L1474.5,1032.2 L1477.7,1021.7 L1480.8,1020.6 L1484,1030.1 L1488.2,1046.9 L1492.4,1058.4 L1498.7,1056.3 L1502.9,1054.2 L1507.1,1062.6 L1511.3,1065.7 L1517.6,1063.6 L1521.7,1074.1 L1525.9,1080.5 L1530.1,1069.9 L1532.2,1067.8 L1535.4,1084.6 L1538.5,1090 L1541.7,1084.6 L1544.8,1059.4 L1546.9,1025.9 L1549,988.1 L1551.1,976.5 L1554.3,994.4 L1557.4,1011.3 L1561.6,1004.9 L1565.8,962.9 L1567.9,921 L1568,907.8 L1570.1,893.8 L1574.3,886.9 L1576.4,865.9 L1579.2,837.9 L1582,809.9 L1584.8,782 L1588.3,754 L1590.3,740 L1590.3,727.8 L1593.1,692.9 L1595.2,671.9 L1600.1,657.9 L1604.3,646.7 L1605.7,629.9 L1607.8,602 L1609.9,578.2 L1612,568.4 L1613.4,567 L1615.5,578.2 L1617.6,599.2 L1620.4,615.3 L1622.2,602 L1623.9,597 L1625.6,602 L1626.7,622.9 L1628.1,657.9 L1629.5,685.9 L1631.6,720.8 L1633,741.8 L1634,760 L1635.1,768 L1637.9,802.9 L1640.7,830.9 L1643.5,858.9 L1646.3,886.9 L1650.5,907.8 L1656.1,933 L1657.5,938.2 L1661,943.1 L1663.8,934 L1665.9,920 L1667.3,900.8 L1669.4,893 L1671.5,907.8 L1674.3,940 L1676.4,941 L1679.9,964.8 L1684.1,975.9 L1691,982.9 L1698.7,986.4 L1705,982.9 L1712,980.8 L1719,974.5 L1727.4,962 L1735.8,948 L1742.3,933.6 L1745.8,921 L1749.3,911.2 L1753.5,907 L1760.5,901.4 L1764.7,897.8 L1766.1,871.9 L1768.2,829.9 L1770.3,802 L1771.7,794.3 L1775.2,795 L1778.7,801.3 L1782.9,797.8 L1788.5,789.4 L1792,776.8 L1794.1,760 L1795.5,745 L1796.9,731.7 L1801.1,732.4 L1805.3,725.5 L1810.9,719.9 L1815.1,712.9 L1817.9,705.9 L1820.7,694.7 L1823.5,686.3 L1825.6,684.1 L1827.7,690.5 L1831.9,686.3 L1834.7,680.7 L1836.8,663.9 L1838.2,654.1 L1841.7,652.7 L1845.8,654.1 L1849.3,656.9 L1852.1,645.7 L1857,644.3 L1859.1,635.9 L1862.6,631.7 L1864.7,617.8 L1866.8,620.6 L1869.6,623.4 L1870,623.4"/>
</g>
<g class="tick" text-anchor="end">
<text transform="translate(227.4,48.2) scale(0.897,1)">0.18</text>
<text transform="translate(227.4,177.5) scale(0.897,1)">0.16</text>
<text transform="translate(227.4,306.9) scale(0.897,1)">0.14</text>
<text transform="translate(227.4,436.2) scale(0.897,1)">0.12</text>
<text transform="translate(227.4,565.5) scale(0.897,1)">0.10</text>
<text transform="translate(227.4,694.9) scale(0.897,1)">0.08</text>
<text transform="translate(227.4,824.2) scale(0.897,1)">0.06</text>
<text transform="translate(227.4,953.5) scale(0.897,1)">0.04</text>
<text transform="translate(227.4,1082.9) scale(0.897,1)">0.02</text>
<text transform="translate(227.4,1212.2) scale(0.897,1)">0.00</text>
</g>
<g class="tick" text-anchor="middle">
<text transform="translate(266.1,1278.0) scale(0.897,1)">4000</text>
<text transform="translate(718.1,1278.0) scale(0.897,1)">3000</text>
<text transform="translate(1170.1,1278.0) scale(0.897,1)">2000</text>
<text transform="translate(1622.1,1278.0) scale(0.897,1)">1000</text>
</g>
<text class="lab" transform="translate(794.6,1400) scale(0.965,1)" letter-spacing="1.6"><tspan dx="0.1 -1.35 -2.3 -2.4 1.65 -0.9 -2 1.05 1.75 0.95 0 -1.05 -2.05 0.95">wavenumber (cm</tspan><tspan dx="1.1 -0.2" dy="-32.4" font-size="41.3">-1</tspan><tspan dx="1.15" dy="32.4">)</tspan></text>
<text class="lab" transform="translate(63.8,789.9) rotate(-90) scale(0.975,1)" letter-spacing="1.9" dx="0.3 0.9 1 2.8 -0.9 -1.1 2.05 -3.1 -2.15 0.5">Absorbance</text>
<rect class="ax" shape-rendering="crispEdges" x="304" y="69" width="393" height="461.5" fill="#fff" style="fill:#fff"/>
<g class="leg">
<line x1="335.5" y1="129.0" x2="438.5" y2="129.0" stroke="#ff0000" stroke-width="4" stroke-linecap="round" shape-rendering="crispEdges"/>
<text transform="translate(464.3,145.5) scale(1.0001,1)">cotton</text>
<line x1="335.5" y1="186.0" x2="438.5" y2="186.0" stroke="#00ff00" stroke-width="4" stroke-linecap="round" shape-rendering="crispEdges"/>
<text transform="translate(464.3,202.5) scale(0.9681,1)">linen</text>
<line x1="336.2" y1="242.5" x2="437.8" y2="242.5" stroke="#0000ff" stroke-width="5" stroke-linecap="round" shape-rendering="crispEdges"/>
<text transform="translate(464.3,259.5) scale(0.9438,1)">wool</text>
<line x1="336.2" y1="299.5" x2="437.8" y2="299.5" stroke="#00ffff" stroke-width="5" stroke-linecap="round" shape-rendering="crispEdges"/>
<text transform="translate(464.3,316.6) scale(1.0059,1)">silk</text>
<line x1="335.5" y1="356.0" x2="438.5" y2="356.0" stroke="#ff00ff" stroke-width="4" stroke-linecap="round" shape-rendering="crispEdges"/>
<text transform="translate(464.3,372.5) scale(0.9923,1)">polyester</text>
<line x1="335.5" y1="413.0" x2="438.5" y2="413.0" stroke="#980000" stroke-width="4" stroke-linecap="round" shape-rendering="crispEdges"/>
<text transform="translate(464.3,430.5) scale(0.9724,1)">polyamide</text>
<line x1="335.5" y1="470.0" x2="438.5" y2="470.0" stroke="#008000" stroke-width="4" stroke-linecap="round" shape-rendering="crispEdges"/>
<text transform="translate(464.3,486.5) scale(0.9671,1)">viscose</text>
</g>
</svg></body></html>
